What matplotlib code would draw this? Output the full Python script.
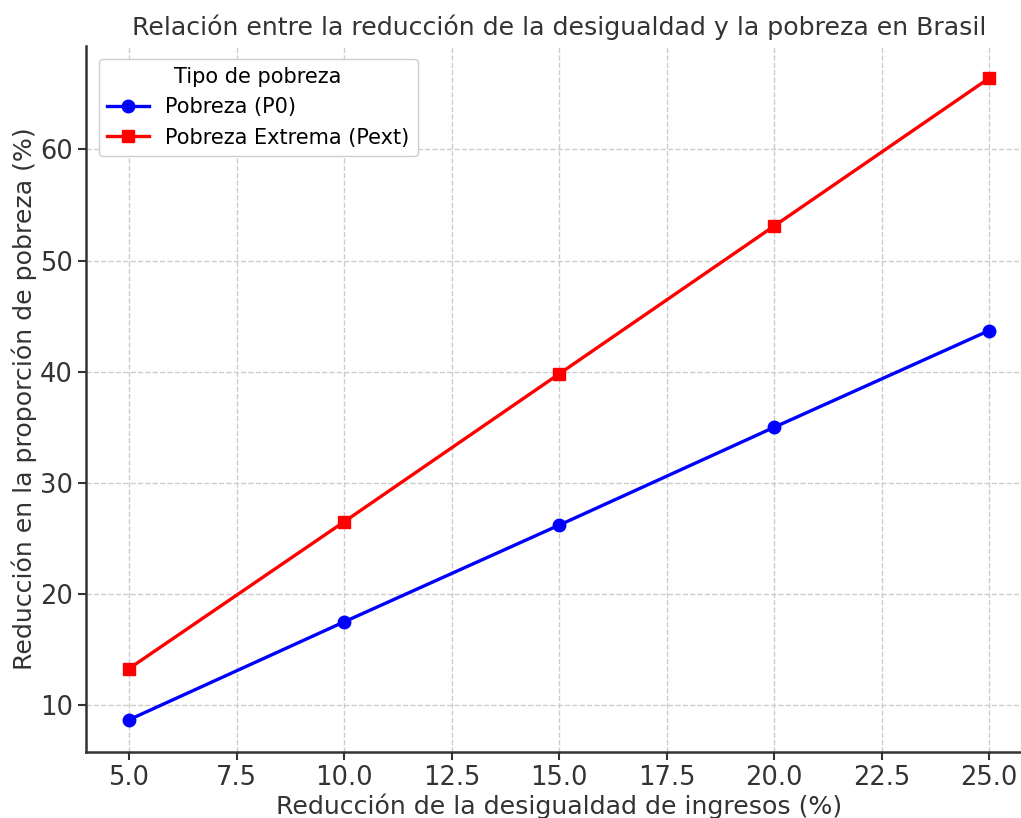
import matplotlib
matplotlib.use("Agg")
import matplotlib.pyplot as plt

# Data
reduccion_desigualdad = [5, 10, 15, 20, 25]
pobreza_p0 = [8.7, 17.5, 26.2, 35.0, 43.7]
pobreza_ext = [13.3, 26.5, 39.8, 53.1, 66.4]

W, H = 1021, 818
fig = plt.figure(figsize=(W / 100, H / 100), dpi=100)
# axes run past the right edge, as in the (cropped) reference
left, right, top, bottom = 86, 1032, 46, 752
ax = fig.add_axes([left / W, 1 - bottom / H, (right - left) / W, (bottom - top) / H])

ax.plot(reduccion_desigualdad, pobreza_p0, "o-", color="blue", lw=2.4, ms=9,
        label="Pobreza (P0)")
ax.plot(reduccion_desigualdad, pobreza_ext, "s-", color="red", lw=2.4, ms=9,
        label="Pobreza Extrema (Pext)")

ax.set_xlim(4, 26)
ax.set_ylim(5.8, 69.3)
ax.set_xticks([5.0, 7.5, 10.0, 12.5, 15.0, 17.5, 20.0, 22.5, 25.0])
ax.tick_params(labelsize=18.5, length=6, width=1.5, colors="#333333")
ax.grid(True, linestyle="--", color="#cccccc", linewidth=1)

for s in ["top", "right"]:
    ax.spines[s].set_visible(False)
for s in ["left", "bottom"]:
    ax.spines[s].set_linewidth(1.8)
    ax.spines[s].set_color("#333333")

ax.set_xlabel("Reducción de la desigualdad de ingresos (%)", fontsize=18.2,
              color="#333333", labelpad=2)
ax.set_ylabel("Reducción en la proporción de pobreza (%)", fontsize=18.2,
              color="#333333", labelpad=2)
ax.set_title("Relación entre la reducción de la desigualdad y la pobreza en Brasil",
             fontsize=18.2, color="#333333", pad=8)

leg = ax.legend(title="Tipo de pobreza", loc="upper left", fontsize=15,
                title_fontsize=15, framealpha=1, edgecolor="#cccccc",
                borderaxespad=0.6)

fig.savefig("out.png", dpi=100)
